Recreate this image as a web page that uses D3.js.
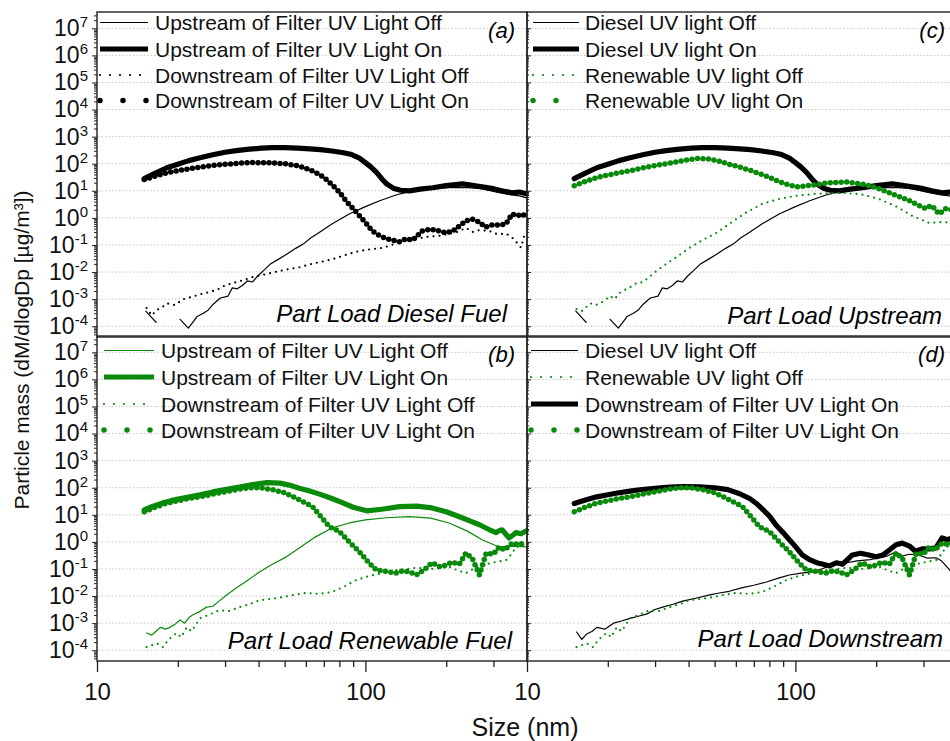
<!DOCTYPE html>
<html>
<head>
<meta charset="utf-8">
<script src="https://cdn.jsdelivr.net/npm/d3@7"></script>
<style>
  body { margin: 0; background: #fff; }
  svg { display: block; font-family: "Liberation Sans", Arial, sans-serif; }
</style>
</head>
<body>
<svg width="950" height="741"></svg>
<script>
//data: [size nm, dM/dlogDp ug/m3], null = gap
const dieselUpOff = [[15.2,3.6e-4],[15.9,2.2e-4],[16.6,1.4e-4],[17.0,null],[20.4,1.8e-4],[21.2,1.2e-4],[21.9,8.5e-5],[23.0,1.6e-4],[23.6,2.3e-4],[24.9,3.0e-4],[26.0,4.0e-4],[27.1,6.5e-4],[28.8,1.1e-3],[30.8,1.3e-3],[31.9,2.6e-3],[33.3,2.4e-3],[34.8,3.2e-3],[36.3,4.7e-3],[38.0,4.3e-3],[39.6,7.0e-3],[42.0,1.2e-2],[44.3,2.0e-2],[47.5,3.0e-2],[51.2,4.7e-2],[55.0,7.5e-2],[58.8,0.11],[62.5,0.18],[66.2,0.26],[75,0.6],[87,1.4],[100,2.6],[113,4.3],[130,7],[150,10],[175,12],[205,13],[240,13],[270,12],[315,8.5],[350,7],[375,6.5],[398,5.5]];
const dieselUpOn = [[15,28],[16.5,45],[18.2,71],[20,95],[22,130],[24.2,167],[27,215],[30,265],[33,305],[37,345],[41,375],[45,392],[50,390],[56,375],[62,355],[68,330],[75,295],[82,260],[88,225],[95,160],[100,110],[105,75],[110,48],[115,28],[120,18],[127,12.5],[135,10.5],[146,10],[160,11.5],[178,13],[200,15.5],[230,18],[250,16],[272,14],[300,12],[330,9.5],[352,8.5],[375,9],[397,7.8]];
const dieselDownOff = [[15.3,4.7e-4],[16,2.5e-4],[16.7,4e-4],[17.5,5e-4],[18.2,7e-4],[19.5,6e-4],[21,1e-3],[22.5,1.2e-3],[24.2,1.5e-3],[26,1.8e-3],[28,2.2e-3],[30,3.2e-3],[32,3.9e-3],[35,5e-3],[38,6.5e-3],[42.9,8.5e-3],[48,1.1e-2],[52,1.3e-2],[56.7,1.5e-2],[63,2e-2],[70,2.5e-2],[78,3.3e-2],[87,4.7e-2],[95,6e-2],[105,7e-2],[116,7.8e-2],[125,0.1],[135,0.13],[145,0.15],[155,0.17],[170,0.2],[190,0.22],[205,0.26],[220,0.3],[237,0.43],[250,0.3],[265,0.35],[289,0.33],[310,0.25],[334,0.26],[350,0.2],[367,0.12],[380,0.08],[390,0.21],[398,0.15]];
const dieselDownOn = [[15,26],[16.5,35],[18.2,46],[20,55],[22,65],[24.2,75],[26.3,84],[30,95],[34,105],[38,110],[44,108],[50,100],[56,85],[62,60],[67.5,40],[72,25],[76,15],[80,9],[85,4],[89.6,2.3],[95,1.2],[101,0.6],[106,0.33],[113,0.22],[120,0.17],[127,0.15],[134,0.13],[142,0.17],[150,0.15],[163,0.33],[175,0.38],[188,0.33],[200,0.28],[212,0.33],[224,0.5],[237,0.78],[250,0.9],[266,0.7],[280,0.45],[297,0.55],[315,0.55],[334,0.6],[352,1.4],[368,1.2],[384,1.4],[398,1.1]];
const renewUpOff = [[15.3,4.3e-4],[16,3.6e-4],[16.6,5e-4],[17.2,7e-4],[18,6e-4],[18.7,7e-4],[19.5,9e-4],[20.4,1.3e-3],[21.2,1e-3],[22,1.6e-3],[22.7,2e-3],[24,2.6e-3],[25.6,3.9e-3],[27,4.2e-3],[28.5,6.5e-3],[30.4,1.1e-2],[33,2e-2],[36,3.5e-2],[40.3,7.8e-2],[45,0.15],[50.8,0.28],[56.7,0.6],[65,1.5],[75.3,3.3],[87,5],[100,6.5],[120,7.8],[146,8.5],[175,7.5],[205,5],[240,2.5],[272,1.2],[315,0.65],[350,0.7],[398,0.65]];
const renewUpOn = [[15,15.3],[16,20],[17.5,27],[19,34],[21,42],[24.2,55],[27,70],[30,85],[34,105],[38,130],[43,155],[48,148],[52,125],[56.7,95],[62,75],[67.5,58],[75,40],[82,28],[90,19],[101,14],[115,16],[134,20],[155,21],[177,18],[200,13],[224,8.5],[245,6],[266,4.3],[290,2.8],[307,2.2],[315,2.6],[323,2.8],[343,1.4],[355,1.8],[364,2.2],[380,2.0],[398,2.6]];
const renewDownOff = [[15.3,1.3e-4],[16.7,1.8e-4],[17.6,1.3e-4],[18.5,2.5e-4],[19.8,4.3e-4],[20.6,3e-4],[21.6,7e-4],[22.5,5e-4],[24.2,1.5e-3],[26,2e-3],[28.6,3e-3],[31,2.8e-3],[34,3.9e-3],[37,5e-3],[40.3,7e-3],[45,8e-3],[49,9e-3],[54,1.1e-2],[60,1.3e-2],[67,1.2e-2],[75,1.4e-2],[83,2.2e-2],[92.5,3.9e-2],[103,5.5e-2],[116,7e-2],[130,9e-2],[155,0.11],[180,0.1],[205,0.12],[220,9e-2],[237,7e-2],[260,0.12],[296,0.17],[334,0.21],[350,0.35],[364,0.65],[380,0.7],[398,0.9]];
const renewDownOn = [[15,13],[16.5,19],[18,26],[20,33],[22,40],[24.2,46],[27,58],[30,70],[33,85],[37,100],[41,98],[45,85],[50,65],[56.7,36],[63.5,20],[68,9],[73.5,3.6],[80,2.4],[87,1],[95,0.43],[103,0.17],[110,0.09],[116,0.085],[123,0.078],[130,0.07],[138,0.085],[146,0.078],[155,0.06],[165,0.09],[177,0.17],[190,0.12],[200,0.14],[210,0.18],[224,0.15],[237,0.39],[250,0.25],[266,0.06],[282,0.39],[300,0.35],[315,0.65],[330,0.5],[352,0.9],[375,0.8],[398,1.0]];

//axis ticks
const exps = [-4, -3, -2, -1, 0, 1, 2, 3, 4, 5, 6, 7];
const xMajor = [10, 100];
const xMinor = [20, 30, 40, 50, 60, 70, 80, 90, 200, 300];

const black = '#000';
const green = '#0a8a0a';

//line styles: width, dash in plot, dash in legend
const styles = {
  thin: {w: 1.2, dash: null, leg: null},
  thick: {w: 5.2, dash: null, leg: null},
  small: {w: 2.2, dash: '0 6', leg: '0 10'},
  big: {w: 5.5, dash: '0 5.5', leg: '0 23'}
};

const panels = [
  {col: 0, row: 0, tag: '(a)', note: 'Part Load Diesel Fuel', noteX: 507, noteY: 313,
   leg: {x0: 100, x1: 148, tx: 155, y: [22.5, 49, 75, 100.5]},
   series: [
     {data: dieselUpOff, color: black, style: 'thin', label: 'Upstream of Filter UV Light Off'},
     {data: dieselUpOn, color: black, style: 'thick', label: 'Upstream of Filter UV Light On'},
     {data: dieselDownOff, color: black, style: 'small', label: 'Downstream of Filter UV Light Off'},
     {data: dieselDownOn, color: black, style: 'big', label: 'Downstream of Filter UV Light On'}]},
  {col: 0, row: 1, tag: '(b)', note: 'Part Load Renewable Fuel', noteX: 512, noteY: 640,
   leg: {x0: 104, x1: 154, tx: 161, y: [350.5, 377, 404, 430]},
   series: [
     {data: renewUpOff, color: green, style: 'thin', label: 'Upstream of Filter UV Light Off'},
     {data: renewUpOn, color: green, style: 'thick', label: 'Upstream of Filter UV Light On'},
     {data: renewDownOff, color: green, style: 'small', label: 'Downstream of Filter UV Light Off'},
     {data: renewDownOn, color: green, style: 'big', label: 'Downstream of Filter UV Light On'}]},
  {col: 1, row: 0, tag: '(c)', note: 'Part Load Upstream', noteX: 942, noteY: 315,
   leg: {x0: 533, x1: 579, tx: 585, y: [22.5, 49, 75, 100.5]},
   series: [
     {data: dieselUpOff, color: black, style: 'thin', label: 'Diesel UV light Off'},
     {data: dieselUpOn, color: black, style: 'thick', label: 'Diesel UV light On'},
     {data: renewUpOff, color: green, style: 'small', label: 'Renewable UV light Off'},
     {data: renewUpOn, color: green, style: 'big', label: 'Renewable UV light On'}]},
  {col: 1, row: 1, tag: '(d)', note: 'Part Load Downstream', noteX: 943, noteY: 638,
   leg: {x0: 531, x1: 578, tx: 585, y: [350.5, 377, 404, 430]},
   series: [
     {data: dieselDownOff, color: black, style: 'thin', label: 'Diesel UV light Off'},
     {data: renewDownOff, color: green, style: 'small', label: 'Renewable UV light Off'},
     {data: dieselDownOn, color: black, style: 'thick', label: 'Downstream of Filter UV Light On'},
     {data: renewDownOn, color: green, style: 'big', label: 'Downstream of Filter UV Light On'}]}
];

//set up
const svg = d3.select('svg');
const colX = [97, 527], rowY = [12, 336], pw = 430, ph = 325;

const yMinor = [];
exps.concat([-5]).forEach(e => d3.range(2, 10).forEach(m => yMinor.push(m * Math.pow(10, e))));

panels.forEach(p => {
  const left = colX[p.col], top = rowY[p.row];
  const x = d3.scaleLog().domain([10, 400]).range([left, left + pw]);
  const y = d3.scaleLog().domain([4e-5, 4e7]).range([top + ph, top]);
  const minorY = yMinor.filter(v => v > 4e-5 && v < 4e7);

  //grid
  svg.append('g')
    .selectAll('line')
    .data(exps)
    .join('line')
    .attr('x1', left + 1).attr('x2', left + pw)
    .attr('y1', e => y(Math.pow(10, e))).attr('y2', e => y(Math.pow(10, e)))
    .attr('stroke', '#c4c4c4').attr('stroke-width', 1).attr('stroke-dasharray', '1.5 2');

  //curves
  const line = d3.line()
    .defined(d => d[1] != null)
    .x(d => x(d[0]))
    .y(d => y(d[1]));

  p.series.forEach(s => {
    const st = styles[s.style];
    svg.append('path')
      .datum(s.data)
      .attr('d', line)
      .attr('fill', 'none')
      .attr('stroke', s.color)
      .attr('stroke-width', st.w)
      .attr('stroke-linecap', 'round')
      .attr('stroke-linejoin', 'round')
      .attr('stroke-dasharray', st.dash);
  });

  //legend
  p.series.forEach((s, i) => {
    const st = styles[s.style];
    const ly = p.leg.y[i];
    svg.append('line')
      .attr('x1', p.leg.x0).attr('x2', p.leg.x1)
      .attr('y1', ly).attr('y2', ly)
      .attr('stroke', s.color)
      .attr('stroke-width', st.w)
      .attr('stroke-linecap', st.leg ? 'round' : 'butt')
      .attr('stroke-dasharray', st.leg);
    svg.append('text')
      .attr('x', p.leg.tx).attr('y', ly + 7.5)
      .attr('font-size', 21)
      .attr('fill', '#111')
      .text(s.label);
  });

  //tag and note
  svg.append('text')
    .attr('x', left + pw - 12).attr('y', top + 26)
    .attr('text-anchor', 'end')
    .attr('font-size', 22).attr('font-style', 'italic')
    .text(p.tag);
  svg.append('text')
    .attr('x', p.noteX).attr('y', p.noteY + 8.5)
    .attr('text-anchor', 'end')
    .attr('font-size', 24).attr('font-style', 'italic')
    .text(p.note);

  //y axis
  if (p.col === 0) {
    const gy = svg.append('g')
      .attr('transform', `translate(${left},0)`)
      .call(d3.axisLeft(y).tickValues(exps.map(e => Math.pow(10, e)))
        .tickSize(5).tickPadding(4).tickFormat(() => ''));
    gy.call(g => g.select('.domain').remove());
    gy.attr('font-size', null).attr('font-family', null);
    gy.selectAll('.tick line').attr('stroke', '#222');
    gy.selectAll('.tick text').each(function(d) {
      const t = d3.select(this).attr('fill', '#111').attr('font-size', 23);
      t.append('tspan').text('10');
      t.append('tspan').attr('dy', -9).attr('font-size', 15).text(Math.round(Math.log10(d)));
    });
    svg.append('g')
      .attr('transform', `translate(${left},0)`)
      .call(d3.axisLeft(y).tickValues(minorY).tickSize(3).tickFormat(''))
      .call(g => g.select('.domain').remove())
      .selectAll('.tick line').attr('stroke', '#222');
  } else {
    svg.append('g')
      .attr('transform', `translate(${left},0)`)
      .call(d3.axisLeft(y).tickValues(exps.map(e => Math.pow(10, e))).tickSize(-4).tickFormat(''))
      .call(g => g.select('.domain').remove())
      .selectAll('.tick line').attr('stroke', '#222');
    svg.append('g')
      .attr('transform', `translate(${left},0)`)
      .call(d3.axisLeft(y).tickValues(minorY).tickSize(-2).tickFormat(''))
      .call(g => g.select('.domain').remove())
      .selectAll('.tick line').attr('stroke', '#222');
  }

  //x axis
  if (p.row === 1) {
    const gx = svg.append('g')
      .attr('transform', `translate(0,${top + ph})`)
      .call(d3.axisBottom(x).tickValues(xMajor).tickSize(11).tickPadding(11).tickFormat(d3.format('d')));
    gx.call(g => g.select('.domain').remove());
    gx.attr('font-size', null).attr('font-family', null);
    gx.selectAll('.tick line').attr('stroke', '#222').attr('stroke-width', 1.3);
    gx.selectAll('.tick text').attr('font-size', 24).attr('fill', '#111');
    svg.append('g')
      .attr('transform', `translate(0,${top + ph})`)
      .call(d3.axisBottom(x).tickValues(xMinor).tickSize(6).tickFormat(''))
      .call(g => g.select('.domain').remove())
      .selectAll('.tick line').attr('stroke', '#222').attr('stroke-width', 1.3);
  }

  //frame
  svg.append('rect')
    .attr('x', left).attr('y', top)
    .attr('width', pw).attr('height', ph)
    .attr('fill', 'none')
    .attr('stroke', '#222')
    .attr('stroke-width', 1.4);
});

//axis titles
svg.append('text')
  .attr('transform', 'translate(29,350) rotate(-90)')
  .attr('text-anchor', 'middle')
  .attr('font-size', 21)
  .attr('fill', '#111')
  .text('Particle mass (dM/dlogDp [µg/m³])');

svg.append('text')
  .attr('x', 525).attr('y', 736)
  .attr('text-anchor', 'middle')
  .attr('font-size', 25)
  .attr('fill', '#111')
  .text('Size (nm)');
</script>
</body>
</html>
